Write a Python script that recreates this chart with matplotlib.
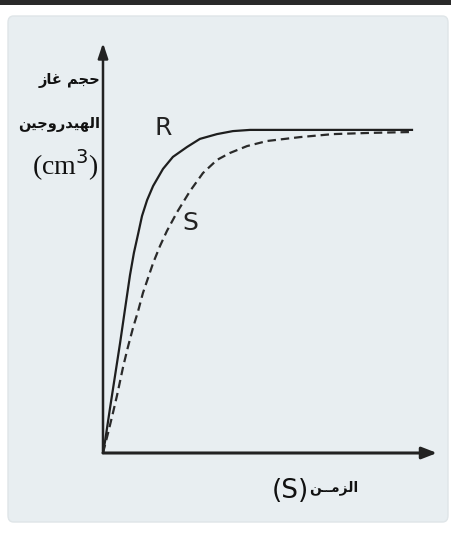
import numpy as np
import matplotlib.pyplot as plt
from matplotlib.patches import FancyBboxPatch, Rectangle

# time (arbitrary units) and hydrogen volume
t_r = [0, 0.07, 0.23, 0.4, 0.57, 0.73, 0.9, 1.03, 1.17, 1.3, 1.47, 1.67, 2.0,
       2.33, 2.8, 3.23, 3.8, 4.33, 4.9, 10.3]
v_r = [0, 0.4, 1.47, 2.57, 3.67, 4.77, 5.93, 6.67, 7.3, 7.9, 8.43, 8.9, 9.47,
       9.87, 10.2, 10.47, 10.63, 10.73, 10.77, 10.77]

t_s = [0, 0.17, 0.33, 0.47, 0.57, 0.67, 0.83, 1.0, 1.17, 1.33, 1.5, 1.67, 1.9,
       2.13, 2.47, 2.9, 3.33, 3.8, 4.23, 4.8, 5.47, 6.57, 7.67, 8.9, 10.3]
v_s = [0, 0.67, 1.33, 1.93, 2.4, 2.87, 3.53, 4.17, 4.73, 5.33, 5.83, 6.33, 6.9,
       7.4, 8.03, 8.73, 9.33, 9.77, 10.0, 10.23, 10.4, 10.53, 10.63, 10.67, 10.7]

# arabic labels in presentation forms, visual order
lbl_y1 = "\uFEAF\uFE8E\uFECF \uFEE2\uFEA0\uFEA3"  # حجم غاز
lbl_y2 = "\uFEE6\uFEF4\uFE9F\uFEED\uFEAD\uFEAA\uFEF4\uFEEC\uFEDF\uFE8D"  # الهيدروجين
lbl_y3 = "(cm$^3$)"
lbl_x = "\uFEE6\u0640\u0640\uFEE3\uFEB0\uFEDF\uFE8D"  # الزمـن
lbl_xu = "(S)"

W, H = 452, 535
fig = plt.figure(figsize=(W / 100, H / 100), dpi=100)
fig.patch.set_facecolor('white')

# panel + top bar
panel = FancyBboxPatch((8 / W, 13 / H), 440 / W, 506 / H,
                       boxstyle="round,pad=0,rounding_size=0.012",
                       transform=fig.transFigure, facecolor='#e8eef1',
                       edgecolor='#dfe5e8', lw=1, zorder=-2)
fig.patches.append(panel)
fig.patches.append(Rectangle((0, 1 - 5 / H), 1, 5 / H, transform=fig.transFigure,
                             facecolor='#2a2a2a', edgecolor='none', zorder=-2))

x0, y0 = 103, 453
x1, y1 = 437, 43
ax = fig.add_axes([x0 / W, (H - y0) / H, (x1 - x0) / W, (y0 - y1) / H])
ax.patch.set_alpha(0)
ax.set_xlim(0, (x1 - x0) / 30)
ax.set_ylim(0, (y0 - y1) / 30)
for s in ax.spines.values():
    s.set_visible(False)
ax.set_xticks([])
ax.set_yticks([])

# axes with arrow heads
ax.annotate('', xy=(1.0, 0), xytext=(0, 0), xycoords='axes fraction',
            arrowprops=dict(arrowstyle='-|>,head_length=0.9,head_width=0.35',
                            color='#222222', lw=2.2, shrinkA=0, shrinkB=0))
ax.annotate('', xy=(0, 1.0), xytext=(0, 0), xycoords='axes fraction',
            arrowprops=dict(arrowstyle='-|>,head_length=0.9,head_width=0.3',
                            color='#222222', lw=1.8, shrinkA=0, shrinkB=0))

ax.plot(t_r, v_r, color='#1e1e1e', lw=1.6, solid_joinstyle='round')
ax.plot(t_s, v_s, color='#2a2a2a', lw=1.6, ls=(0, (3.8, 2.2)))

ax.text(2.0, 10.83, 'R', fontsize=18, ha='center', va='center', color='#222222')
ax.text(2.9, 7.67, 'S', fontsize=18, ha='center', va='center', color='#222222')

# axis labels
fig.text(100 / W, 1 - 80 / H, lbl_y1, ha='right', va='center', fontsize=10.5,
         fontweight='bold', family='DejaVu Sans', color='#111111')
fig.text(100 / W, 1 - 124 / H, lbl_y2, ha='right', va='center', fontsize=10.5,
         fontweight='bold', family='DejaVu Sans', color='#111111')
fig.text(99 / W, 1 - 165 / H, lbl_y3, ha='right', va='center', fontsize=20,
         family='Liberation Serif', color='#111111')
fig.text(309 / W, 1 - 491 / H, lbl_xu, ha='right', va='center', fontsize=19,
         color='#111111')
fig.text(309 / W, 1 - 488 / H, lbl_x, ha='left', va='center', fontsize=10,
         fontweight='bold', family='DejaVu Sans', color='#111111')

fig.savefig('out.png', dpi=100, facecolor=fig.get_facecolor())
